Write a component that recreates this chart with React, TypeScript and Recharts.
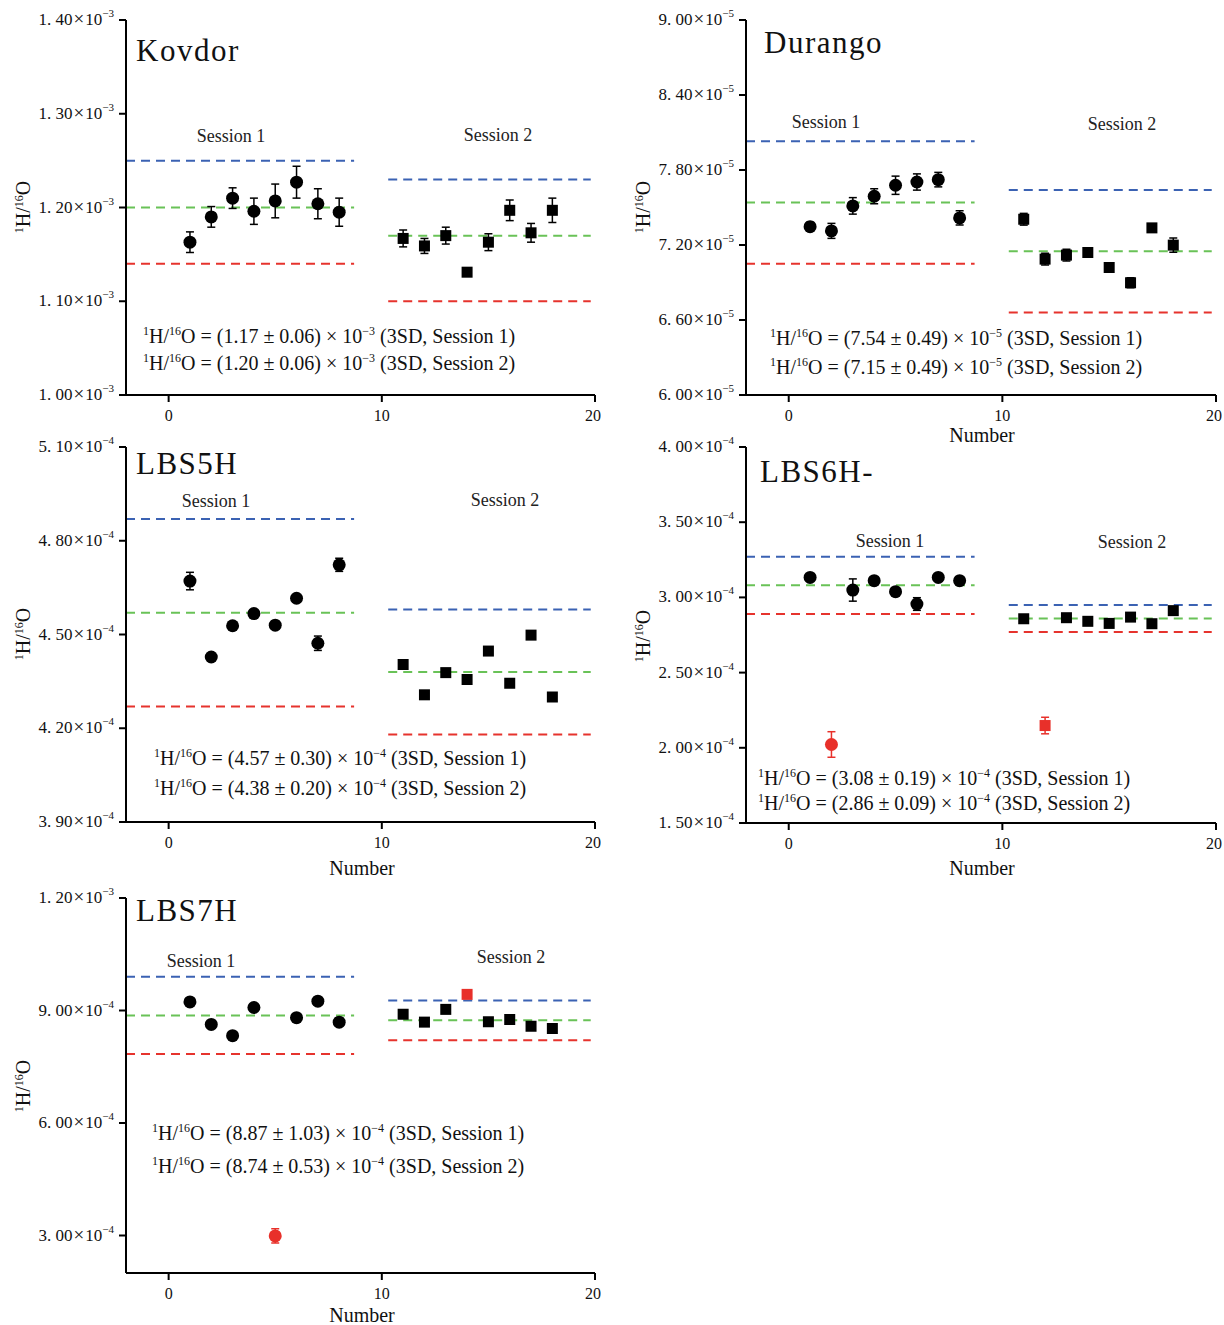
import React from 'react';
import { ScatterChart, Scatter, XAxis, YAxis, ErrorBar, ReferenceLine } from 'recharts';

const FONT = '"Liberation Serif", "Times New Roman", Times, serif';

// ---------- shared x positions / axis ticks ----------
const session1X = [1, 2, 3, 4, 5, 6, 7, 8];
const session2X = [11, 12, 13, 14, 15, 16, 17, 18];
const xTicks = [0, 10, 20];
const xDomain: [number, number] = [-2, 20];
const session1Span: [number, number] = [-2, 8.7];
const session2Span: [number, number] = [10.3, 19.8];

// ---------- Kovdor ----------
const kovdorS1Y = [1.163e-3, 1.19e-3, 1.21e-3, 1.196e-3, 1.207e-3, 1.227e-3, 1.204e-3, 1.195e-3];
const kovdorS1Err = [0.011e-3, 0.011e-3, 0.011e-3, 0.014e-3, 0.018e-3, 0.017e-3, 0.016e-3, 0.015e-3];
const kovdorS2Y = [1.167e-3, 1.159e-3, 1.17e-3, 1.131e-3, 1.163e-3, 1.197e-3, 1.173e-3, 1.197e-3];
const kovdorS2Err = [0.009e-3, 0.008e-3, 0.009e-3, 0.004e-3, 0.009e-3, 0.011e-3, 0.01e-3, 0.013e-3];
const kovdorLines1 = [1.25e-3, 1.2e-3, 1.14e-3];
const kovdorLines2 = [1.23e-3, 1.17e-3, 1.1e-3];
const kovdorYTicks = [1.0e-3, 1.1e-3, 1.2e-3, 1.3e-3, 1.4e-3];
const kovdorYDomain: [number, number] = [1.0e-3, 1.4e-3];
const kovdorEq = ['1.17 ± 0.06', '1.20 ± 0.06'];

// ---------- Durango ----------
const durangoS1Y = [7.347e-5, 7.313e-5, 7.513e-5, 7.59e-5, 7.678e-5, 7.704e-5, 7.723e-5, 7.417e-5];
const durangoS1Err = [0.035e-5, 0.06e-5, 0.066e-5, 0.06e-5, 0.073e-5, 0.065e-5, 0.058e-5, 0.057e-5];
const durangoS2Y = [7.406e-5, 7.087e-5, 7.119e-5, 7.14e-5, 7.02e-5, 6.898e-5, 7.337e-5, 7.199e-5];
const durangoS2Err = [0.047e-5, 0.047e-5, 0.047e-5, 0.02e-5, 0.015e-5, 0.04e-5, 0.015e-5, 0.057e-5];
const durangoLines1 = [8.03e-5, 7.54e-5, 7.05e-5];
const durangoLines2 = [7.64e-5, 7.15e-5, 6.66e-5];
const durangoYTicks = [6.0e-5, 6.6e-5, 7.2e-5, 7.8e-5, 8.4e-5, 9.0e-5];
const durangoYDomain: [number, number] = [6.0e-5, 9.0e-5];
const durangoEq = ['7.54 ± 0.49', '7.15 ± 0.49'];

// ---------- LBS5H ----------
const lbs5S1Y = [4.671e-4, 4.428e-4, 4.528e-4, 4.567e-4, 4.53e-4, 4.616e-4, 4.472e-4, 4.723e-4];
const lbs5S1Err = [0.028e-4, 0.008e-4, 0.01e-4, 0.008e-4, 0.012e-4, 0.008e-4, 0.023e-4, 0.021e-4];
const lbs5S2Y = [4.404e-4, 4.307e-4, 4.378e-4, 4.356e-4, 4.447e-4, 4.344e-4, 4.498e-4, 4.3e-4];
const lbs5S2Err = [0.008e-4, 0.008e-4, 0.012e-4, 0.008e-4, 0.008e-4, 0.008e-4, 0.008e-4, 0.012e-4];
const lbs5Lines1 = [4.87e-4, 4.57e-4, 4.27e-4];
const lbs5Lines2 = [4.58e-4, 4.38e-4, 4.18e-4];
const lbs5YTicks = [3.9e-4, 4.2e-4, 4.5e-4, 4.8e-4, 5.1e-4];
const lbs5YDomain: [number, number] = [3.9e-4, 5.1e-4];
const lbs5Eq = ['4.57 ± 0.30', '4.38 ± 0.20'];

// ---------- LBS6H- ----------
const lbs6S1X = [1, 3, 4, 5, 6, 7, 8];
const lbs6S1Y = [3.133e-4, 3.049e-4, 3.111e-4, 3.038e-4, 2.956e-4, 3.133e-4, 3.111e-4];
const lbs6S1Err = [0.02e-4, 0.074e-4, 0.015e-4, 0.012e-4, 0.042e-4, 0.015e-4, 0.015e-4];
const lbs6Out1X = [2];
const lbs6Out1Y = [2.022e-4];
const lbs6Out1Err = [0.085e-4];
const lbs6S2X = [11, 13, 14, 15, 16, 17, 18];
const lbs6S2Y = [2.858e-4, 2.865e-4, 2.841e-4, 2.827e-4, 2.869e-4, 2.825e-4, 2.912e-4];
const lbs6S2Err = [0.01e-4, 0.01e-4, 0.01e-4, 0.01e-4, 0.01e-4, 0.01e-4, 0.012e-4];
const lbs6Out2X = [12];
const lbs6Out2Y = [2.148e-4];
const lbs6Out2Err = [0.055e-4];
const lbs6Lines1 = [3.27e-4, 3.08e-4, 2.89e-4];
const lbs6Lines2 = [2.95e-4, 2.86e-4, 2.77e-4];
const lbs6YTicks = [1.5e-4, 2.0e-4, 2.5e-4, 3.0e-4, 3.5e-4, 4.0e-4];
const lbs6YDomain: [number, number] = [1.5e-4, 4.0e-4];
const lbs6Eq = ['3.08 ± 0.19', '2.86 ± 0.09'];

// ---------- LBS7H ----------
const lbs7S1X = [1, 2, 3, 4, 6, 7, 8];
const lbs7S1Y = [9.23e-4, 8.63e-4, 8.33e-4, 9.08e-4, 8.81e-4, 9.25e-4, 8.69e-4];
const lbs7S1Err = [0.03e-4, 0.03e-4, 0.03e-4, 0.03e-4, 0.03e-4, 0.03e-4, 0.03e-4];
const lbs7Out1X = [5];
const lbs7Out1Y = [2.99e-4];
const lbs7Out1Err = [0.19e-4];
const lbs7S2X = [11, 12, 13, 15, 16, 17, 18];
const lbs7S2Y = [8.9e-4, 8.69e-4, 9.03e-4, 8.7e-4, 8.76e-4, 8.58e-4, 8.52e-4];
const lbs7S2Err = [0.03e-4, 0.03e-4, 0.03e-4, 0.03e-4, 0.03e-4, 0.03e-4, 0.03e-4];
const lbs7Out2X = [14];
const lbs7Out2Y = [9.43e-4];
const lbs7Out2Err = [0.03e-4];
const lbs7Lines1 = [9.9e-4, 8.87e-4, 7.84e-4];
const lbs7Lines2 = [9.27e-4, 8.74e-4, 8.21e-4];
const lbs7YTicks = [3.0e-4, 6.0e-4, 9.0e-4, 1.2e-3];
const lbs7YDomain: [number, number] = [2.0e-4, 1.2e-3];
const lbs7Eq = ['8.87 ± 1.03', '8.74 ± 0.53'];

// ---------- styling ----------
const BLUE = '#3b62b3';
const GREEN = '#69c257';
const RED = '#e6332d';
const RED_MARK = '#e8302a';
const LINE_COLORS = [BLUE, GREEN, RED];

type Pt = { x: number; y: number; err: number };
const pts = (xs: number[], ys: number[], errs: number[]): Pt[] =>
  xs.map((x, i) => ({ x, y: ys[i], err: errs[i] }));

const circleShape = (color: string) => (p: any) =>
  p.cx == null ? <g /> : <circle cx={p.cx} cy={p.cy} r={6.5} fill={color} />;
const squareShape = (color: string) => (p: any) =>
  p.cx == null ? <g /> : <rect x={p.cx - 5.5} y={p.cy - 5.5} width={11} height={11} fill={color} />;

const YTick = (props: any) => {
  const { x, y, payload } = props;
  const v = payload.value as number;
  const exp = Math.floor(Math.log10(v) + 1e-9);
  const m = (v / Math.pow(10, exp)).toFixed(2).replace('.', '. ');
  return (
    <text x={x} y={y} dy={5} textAnchor="end" fontFamily={FONT} fontSize={17} fill="#111">
      {m}
      <tspan dx={1} fontSize={19}>×</tspan>
      <tspan dx={1}>10</tspan>
      <tspan dy={-8} fontSize={11}>{`−${-exp}`}</tspan>
    </text>
  );
};

const XTick = (props: any) => {
  const { x, y, payload } = props;
  return (
    <text x={x} y={y} dy={17} textAnchor="middle" fontFamily={FONT} fontSize={16} fill="#111">
      {payload.value}
    </text>
  );
};

interface PanelProps {
  plotLeft: number;
  plotTop: number;
  plotW: number;
  plotH: number;
  yDomain: [number, number];
  yTicks: number[];
  s1: Pt[];
  s2: Pt[];
  out1?: Pt[];
  out2?: Pt[];
  lines1: number[];
  lines2: number[];
}

const YW = 120;
const MT = 15;
const MR = 6;
const XH = 40;

function Panel(p: PanelProps) {
  const width = YW + p.plotW + MR;
  const height = MT + p.plotH + XH;
  const errProps = { dataKey: 'err', direction: 'y' as const, width: 4, strokeWidth: 1.5, isAnimationActive: false };
  return (
    <div style={{ position: 'absolute', left: p.plotLeft - YW, top: p.plotTop - MT, width, height }}>
      <ScatterChart width={width} height={height} margin={{ top: MT, right: MR, bottom: 0, left: 0 }}>
        <XAxis
          type="number"
          dataKey="x"
          domain={xDomain}
          ticks={xTicks}
          allowDataOverflow
          height={XH}
          axisLine={{ stroke: '#000', strokeWidth: 2 }}
          tickLine={{ stroke: '#000', strokeWidth: 2 }}
          tickSize={7}
          tickMargin={2}
          tick={<XTick />}
        />
        <YAxis
          type="number"
          dataKey="y"
          domain={p.yDomain}
          ticks={p.yTicks}
          allowDataOverflow
          width={YW}
          axisLine={{ stroke: '#000', strokeWidth: 2 }}
          tickLine={{ stroke: '#000', strokeWidth: 2 }}
          tickSize={7}
          tickMargin={5}
          tick={<YTick />}
        />
        {p.lines1.map((v, i) => (
          <ReferenceLine
            key={`l1-${i}`}
            segment={[{ x: session1Span[0], y: v }, { x: session1Span[1], y: v }]}
            stroke={LINE_COLORS[i]}
            strokeWidth={2}
            strokeDasharray="9 6"
          />
        ))}
        {p.lines2.map((v, i) => (
          <ReferenceLine
            key={`l2-${i}`}
            segment={[{ x: session2Span[0], y: v }, { x: session2Span[1], y: v }]}
            stroke={LINE_COLORS[i]}
            strokeWidth={2}
            strokeDasharray="9 6"
          />
        ))}
        <Scatter data={p.s1} shape={circleShape('#000')} isAnimationActive={false}>
          <ErrorBar {...errProps} stroke="#000" />
        </Scatter>
        <Scatter data={p.s2} shape={squareShape('#000')} isAnimationActive={false}>
          <ErrorBar {...errProps} stroke="#000" />
        </Scatter>
        {p.out1 && (
          <Scatter data={p.out1} shape={circleShape(RED_MARK)} isAnimationActive={false}>
            <ErrorBar {...errProps} stroke={RED_MARK} />
          </Scatter>
        )}
        {p.out2 && (
          <Scatter data={p.out2} shape={squareShape(RED_MARK)} isAnimationActive={false}>
            <ErrorBar {...errProps} stroke={RED_MARK} />
          </Scatter>
        )}
      </ScatterChart>
    </div>
  );
}

function Equation({ x, y, value, exp, session }: { x: number; y: number; value: string; exp: number; session: number }) {
  return (
    <text x={x} y={y} fontFamily={FONT} fontSize={20} fill="#111">
      <tspan fontSize={12} dy={-8}>1</tspan>
      <tspan dy={8}>H/</tspan>
      <tspan fontSize={12} dy={-8}>16</tspan>
      <tspan dy={8}>{`O = (${value}) × 10`}</tspan>
      <tspan fontSize={12} dy={-8}>{`−${exp}`}</tspan>
      <tspan dy={8}>{` (3SD, Session ${session})`}</tspan>
    </text>
  );
}

function YLabel({ x, y }: { x: number; y: number }) {
  return (
    <text transform={`translate(${x},${y}) rotate(-90)`} textAnchor="middle" fontFamily={FONT} fontSize={20} fill="#111">
      <tspan fontSize={12} dy={-7}>1</tspan>
      <tspan dy={7}>H/</tspan>
      <tspan fontSize={12} dy={-7}>16</tspan>
      <tspan dy={7}>O</tspan>
    </text>
  );
}

const Title = ({ x, y, text }: { x: number; y: number; text: string }) => (
  <text x={x} y={y} fontFamily={FONT} fontSize={31} letterSpacing={1.5} fill="#111">{text}</text>
);
const Session = ({ x, y, text }: { x: number; y: number; text: string }) => (
  <text x={x} y={y} textAnchor="middle" fontFamily={FONT} fontSize={18} fill="#222">{text}</text>
);
const XLabel = ({ x, y }: { x: number; y: number }) => (
  <text x={x} y={y} textAnchor="middle" fontFamily={FONT} fontSize={20} fill="#111">Number</text>
);

export default function App() {
  return (
    <div
      style={{
        position: 'absolute',
        left: 0,
        top: 0,
        width: 1224,
        height: 1325,
        background: '#fff',
        overflow: 'hidden',
        fontFamily: FONT,
      }}
    >
      <Panel
        plotLeft={126} plotTop={20} plotW={469} plotH={375}
        yDomain={kovdorYDomain} yTicks={kovdorYTicks}
        s1={pts(session1X, kovdorS1Y, kovdorS1Err)}
        s2={pts(session2X, kovdorS2Y, kovdorS2Err)}
        lines1={kovdorLines1} lines2={kovdorLines2}
      />
      <Panel
        plotLeft={746} plotTop={20} plotW={470} plotH={375}
        yDomain={durangoYDomain} yTicks={durangoYTicks}
        s1={pts(session1X, durangoS1Y, durangoS1Err)}
        s2={pts(session2X, durangoS2Y, durangoS2Err)}
        lines1={durangoLines1} lines2={durangoLines2}
      />
      <Panel
        plotLeft={126} plotTop={447} plotW={469} plotH={375}
        yDomain={lbs5YDomain} yTicks={lbs5YTicks}
        s1={pts(session1X, lbs5S1Y, lbs5S1Err)}
        s2={pts(session2X, lbs5S2Y, lbs5S2Err)}
        lines1={lbs5Lines1} lines2={lbs5Lines2}
      />
      <Panel
        plotLeft={746} plotTop={447} plotW={470} plotH={376}
        yDomain={lbs6YDomain} yTicks={lbs6YTicks}
        s1={pts(lbs6S1X, lbs6S1Y, lbs6S1Err)}
        s2={pts(lbs6S2X, lbs6S2Y, lbs6S2Err)}
        out1={pts(lbs6Out1X, lbs6Out1Y, lbs6Out1Err)}
        out2={pts(lbs6Out2X, lbs6Out2Y, lbs6Out2Err)}
        lines1={lbs6Lines1} lines2={lbs6Lines2}
      />
      <Panel
        plotLeft={126} plotTop={898} plotW={469} plotH={375}
        yDomain={lbs7YDomain} yTicks={lbs7YTicks}
        s1={pts(lbs7S1X, lbs7S1Y, lbs7S1Err)}
        s2={pts(lbs7S2X, lbs7S2Y, lbs7S2Err)}
        out1={pts(lbs7Out1X, lbs7Out1Y, lbs7Out1Err)}
        out2={pts(lbs7Out2X, lbs7Out2Y, lbs7Out2Err)}
        lines1={lbs7Lines1} lines2={lbs7Lines2}
      />
      <svg
        width={1224}
        height={1325}
        style={{ position: 'absolute', left: 0, top: 0, pointerEvents: 'none' }}
      >
        {/* Kovdor */}
        <Title x={136} y={61} text="Kovdor" />
        <Session x={231} y={142} text="Session 1" />
        <Session x={498} y={141} text="Session 2" />
        <Equation x={143} y={343} value={kovdorEq[0]} exp={3} session={1} />
        <Equation x={143} y={370} value={kovdorEq[1]} exp={3} session={2} />
        <YLabel x={30} y={207} />

        {/* Durango */}
        <Title x={764} y={53} text="Durango" />
        <Session x={826} y={128} text="Session 1" />
        <Session x={1122} y={130} text="Session 2" />
        <Equation x={770} y={345} value={durangoEq[0]} exp={5} session={1} />
        <Equation x={770} y={374} value={durangoEq[1]} exp={5} session={2} />
        <YLabel x={650} y={207} />
        <XLabel x={982} y={442} />

        {/* LBS5H */}
        <Title x={136} y={474} text="LBS5H" />
        <Session x={216} y={507} text="Session 1" />
        <Session x={505} y={506} text="Session 2" />
        <Equation x={154} y={765} value={lbs5Eq[0]} exp={4} session={1} />
        <Equation x={154} y={795} value={lbs5Eq[1]} exp={4} session={2} />
        <YLabel x={30} y={634} />
        <XLabel x={362} y={875} />

        {/* LBS6H- */}
        <Title x={760} y={482} text="LBS6H-" />
        <Session x={890} y={547} text="Session 1" />
        <Session x={1132} y={548} text="Session 2" />
        <Equation x={758} y={785} value={lbs6Eq[0]} exp={4} session={1} />
        <Equation x={758} y={810} value={lbs6Eq[1]} exp={4} session={2} />
        <YLabel x={650} y={636} />
        <XLabel x={982} y={875} />

        {/* LBS7H */}
        <Title x={136} y={921} text="LBS7H" />
        <Session x={201} y={967} text="Session 1" />
        <Session x={511} y={963} text="Session 2" />
        <Equation x={152} y={1140} value={lbs7Eq[0]} exp={4} session={1} />
        <Equation x={152} y={1173} value={lbs7Eq[1]} exp={4} session={2} />
        <YLabel x={30} y={1086} />
        <XLabel x={362} y={1322} />
      </svg>
    </div>
  );
}
